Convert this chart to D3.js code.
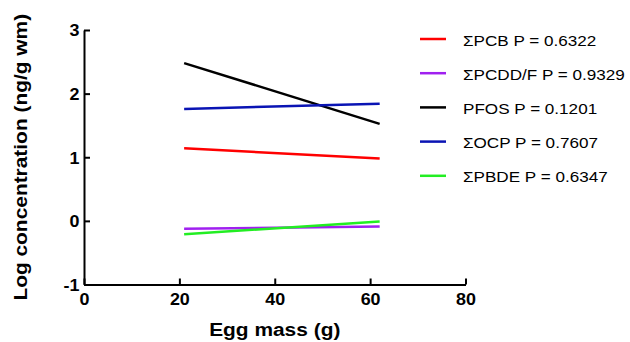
<!DOCTYPE html>
<html>
<head>
<meta charset="utf-8">
<script src="https://cdn.jsdelivr.net/npm/d3@7"></script>
<style>
  html, body { margin: 0; padding: 0; background: #fff; }
  svg { display: block; }
  text { font-family: "Liberation Sans", Arial, Helvetica, sans-serif; fill: #000; }
</style>
</head>
<body>
<svg id="chart" width="630" height="342"></svg>
<script>
// Regression lines: log concentration vs egg mass, fitted over the observed mass range
const eggMass = [21, 62];
const seriesNames = ["\u03A3PCB", "\u03A3PCDD/F", "PFOS", "\u03A3OCP", "\u03A3PBDE"];
const pValues = ["0.6322", "0.9329", "0.1201", "0.7607", "0.6347"];
const pcb = [1.14, 0.98];
const pcddf = [-0.125, -0.09];
const pfos = [2.48, 1.525];
const ocp = [1.76, 1.84];
const pbde = [-0.21, -0.01];
const seriesColors = ["#ff0000", "#a020f0", "#000000", "#0a14b4", "#22ee22"];
const xTicks = [0, 20, 40, 60, 80];
const yTicks = [-1, 0, 1, 2, 3];

const seriesValues = [pcb, pcddf, pfos, ocp, pbde];

const svg = d3.select("#chart");
svg.append("rect").attr("width", 630).attr("height", 342).attr("fill", "#fff");

const x = d3.scaleLinear().domain([0, 80]).range([84, 465.5]);
const y = d3.scaleLinear().domain([-1, 3]).range([284.5, 30]);

const TEXT_STRETCH = 1.12;
const plainNumber = d => String(d);

// Axes with inward-pointing ticks
const xAxis = svg.append("g")
  .attr("transform", `translate(0,${y(-1)})`)
  .call(d3.axisBottom(x).tickValues(xTicks).tickFormat(plainNumber)
    .tickSizeInner(-6).tickSizeOuter(0).tickPadding(9));
const yAxis = svg.append("g")
  .attr("transform", `translate(${x(0)},0)`)
  .call(d3.axisLeft(y).tickValues(yTicks).tickFormat(plainNumber)
    .tickSizeInner(-6).tickSizeOuter(0).tickPadding(4));

[xAxis, yAxis].forEach(ax => {
  ax.attr("font-family", null).attr("font-size", null);
  ax.select(".domain").attr("stroke", "#000").attr("stroke-width", 2);
  ax.selectAll(".tick line").attr("stroke", "#000").attr("stroke-width", 2);
  ax.selectAll(".tick text")
    .style("font-size", "16px")
    .style("font-weight", "bold")
    .attr("fill", "#000");
});
xAxis.selectAll(".tick text").attr("transform", `scale(${TEXT_STRETCH},1)`);
yAxis.selectAll(".tick text")
  .attr("dy", "0.36em")
  .attr("transform", `scale(${TEXT_STRETCH},1)`);

// Axis titles
svg.append("text")
  .attr("transform", `translate(${(x(0) + x(80)) / 2},336) scale(1.1,1)`)
  .attr("text-anchor", "middle")
  .style("font-size", "19px")
  .style("font-weight", "bold")
  .text("Egg mass (g)");

svg.append("text")
  .attr("transform", `translate(27,${(y(-1) + y(3)) / 2}) rotate(-90) scale(1.1,1)`)
  .attr("text-anchor", "middle")
  .style("font-size", "19px")
  .style("font-weight", "bold")
  .text("Log concentration (ng/g wm)");

// Regression lines
const line = d3.line()
  .x(d => x(d[0]))
  .y(d => y(d[1]));

svg.append("g")
  .selectAll("path")
  .data(seriesValues)
  .join("path")
  .attr("d", vals => line(eggMass.map((m, i) => [m, vals[i]])))
  .attr("fill", "none")
  .attr("stroke", (d, i) => seriesColors[i])
  .attr("stroke-width", 2.5);

// Legend
const legend = svg.append("g");
const rows = legend.selectAll("g")
  .data(seriesNames)
  .join("g")
  .attr("transform", (d, i) => `translate(420,${39 + i * 34.2})`);

rows.append("line")
  .attr("x1", 0).attr("x2", 26)
  .attr("y1", 0).attr("y2", 0)
  .attr("stroke", (d, i) => seriesColors[i])
  .attr("stroke-width", 2.5);

rows.append("text")
  .attr("transform", `translate(43,6.5) scale(1.14,1)`)
  .style("font-size", "15px")
  .text((d, i) => `${d} P = ${pValues[i]}`);
</script>
</body>
</html>
